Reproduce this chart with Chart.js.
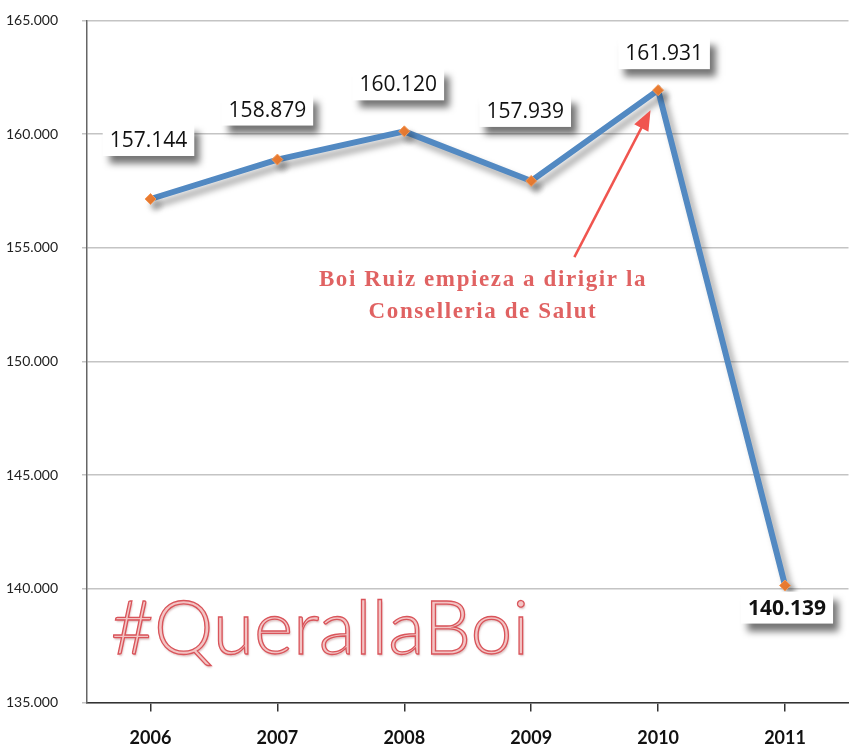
<!DOCTYPE html>
<html>
<head>
<meta charset="utf-8">
<script src="https://cdn.jsdelivr.net/npm/chart.js@4.4.0/dist/chart.umd.min.js"></script>
<style>
  html, body { margin: 0; padding: 0; background: #fff; overflow: hidden; }
  #wrap { width: 855px; height: 747px; position: relative; }
</style>
</head>
<body>
<div id="wrap"><canvas id="chart"></canvas></div>
<script>
// Data
var years = ['2006', '2007', '2008', '2009', '2010', '2011'];
var values = [157144, 158879, 160120, 157939, 161931, 140139];
var valueLabels = ['157.144', '158.879', '160.120', '157.939', '161.931', '140.139'];
var yTicks = [135000, 140000, 145000, 150000, 155000, 160000, 165000];
var noteLines = ['Boi Ruiz empieza a dirigir la', 'Conselleria de Salut'];
var watermark = '#QuerallaBoi';

function fmt(v) {
    return String(v).replace(/\B(?=(\d{3})+(?!\d))/g, '.');
}

// label offsets (px) from the point, boxes drawn white with a soft shadow
var labelOffsets = [[-2, -59], [-10, -50], [-6, -47], [-6, -70], [6, -37], [2, 22]];

var shadowPlugin = {
    id: 'lineShadow',
    beforeDatasetDraw: function(chart) {
        var ctx = chart.ctx;
        ctx.save();
        ctx.shadowColor = 'rgba(0,0,0,0.35)';
        ctx.shadowBlur = 6;
        ctx.shadowOffsetX = 5;
        ctx.shadowOffsetY = 6;
    },
    afterDatasetDraw: function(chart) {
        chart.ctx.restore();
    }
};

var decorPlugin = {
    id: 'decor',
    beforeDatasetsDraw: function(chart) {
        var ctx = chart.ctx;
        var x = chart.scales.x, y = chart.scales.y;
        // watermark
        ctx.save();
        ctx.font = '300 75px Lato, "Open Sans", sans-serif';
        ctx.textBaseline = 'alphabetic';
        ctx.textAlign = 'left';
        var wx = x.getPixelForValue(0) - 40, wy = y.getPixelForValue(137130);
        ctx.shadowColor = 'rgba(120,0,0,0.25)';
        ctx.shadowBlur = 2;
        ctx.shadowOffsetX = 1;
        ctx.shadowOffsetY = 2;
        ctx.fillStyle = '#f3c4c4';
        ctx.fillText(watermark, wx, wy);
        ctx.shadowColor = 'transparent';
        ctx.strokeStyle = '#d9545a';
        ctx.lineWidth = 1.3;
        ctx.strokeText(watermark, wx, wy);
        ctx.restore();
    },
    afterDatasetsDraw: function(chart) {
        var ctx = chart.ctx;
        var x = chart.scales.x, y = chart.scales.y;
        var meta = chart.getDatasetMeta(0);

        // arrow
        var sx = x.getPixelForValue(3) + 0.34 * (x.getPixelForValue(4) - x.getPixelForValue(3));
        var sy = y.getPixelForValue(154590);
        var ex = x.getPixelForValue(3) + 0.94 * (x.getPixelForValue(4) - x.getPixelForValue(3));
        var ey = y.getPixelForValue(161050);
        var ang = Math.atan2(ey - sy, ex - sx);
        ctx.save();
        ctx.strokeStyle = '#f0554f';
        ctx.fillStyle = '#f0554f';
        ctx.lineWidth = 2.5;
        ctx.beginPath();
        ctx.moveTo(sx, sy);
        ctx.lineTo(ex - 14 * Math.cos(ang), ey - 14 * Math.sin(ang));
        ctx.stroke();
        ctx.beginPath();
        ctx.moveTo(ex, ey);
        ctx.lineTo(ex - 20 * Math.cos(ang) + 8 * Math.sin(ang), ey - 20 * Math.sin(ang) - 8 * Math.cos(ang));
        ctx.lineTo(ex - 20 * Math.cos(ang) - 8 * Math.sin(ang), ey - 20 * Math.sin(ang) + 8 * Math.cos(ang));
        ctx.closePath();
        ctx.fill();

        // note text
        ctx.font = 'bold 23px "Liberation Serif", "DejaVu Serif", serif';
        ctx.letterSpacing = '1.6px';
        ctx.fillStyle = '#e06262';
        ctx.textAlign = 'center';
        ctx.textBaseline = 'middle';
        var nx = x.getPixelForValue(2) + 0.62 * (x.getPixelForValue(3) - x.getPixelForValue(2));
        ctx.fillText(noteLines[0], nx, y.getPixelForValue(153580));
        ctx.fillText(noteLines[1], nx, y.getPixelForValue(152170));
        ctx.restore();

        // value label boxes
        ctx.save();
        ctx.textAlign = 'center';
        ctx.textBaseline = 'middle';
        meta.data.forEach(function(pt, i) {
            var cx = pt.x + labelOffsets[i][0];
            var cy = pt.y + labelOffsets[i][1];
            ctx.font = (i === 5 ? 'bold ' : '') + '21px "Open Sans", Lato, sans-serif';
            var w = ctx.measureText(valueLabels[i]).width + 14;
            var h = 32;
            ctx.save();
            ctx.shadowColor = 'rgba(0,0,0,0.55)';
            ctx.shadowBlur = 7;
            ctx.shadowOffsetX = 6;
            ctx.shadowOffsetY = 8;
            ctx.fillStyle = '#ffffff';
            ctx.fillRect(cx - w / 2, cy - h / 2, w, h);
            ctx.restore();
            ctx.fillStyle = '#111';
            ctx.fillText(valueLabels[i], cx, cy + 1);
        });
        ctx.restore();
    }
};

new Chart(document.getElementById('chart'), {
    type: 'line',
    data: {
        labels: years,
        datasets: [{
            data: values,
            borderColor: '#5289c2',
            borderWidth: 6,
            tension: 0,
            pointStyle: 'rectRot',
            pointRadius: 5.5,
            pointBackgroundColor: '#ea7c32',
            pointBorderColor: '#f39a5a',
            pointBorderWidth: 1,
            fill: false
        }]
    },
    options: {
        responsive: true,
        maintainAspectRatio: false,
        animation: false,
        events: [],
        layout: { padding: { top: 17, right: 0, left: 6, bottom: -18 } },
        plugins: {
            legend: { display: false },
            tooltip: { enabled: false }
        },
        scales: {
            x: {
                offset: true,
                grid: {
                    display: true,
                    drawOnChartArea: false,
                    drawTicks: true,
                    tickLength: 9,
                    color: '#333',
                    lineWidth: 1.5
                },
                border: { display: true, color: '#333', width: 1.5 },
                ticks: {
                    color: '#111',
                    padding: 16,
                    font: { family: 'Lato, "Open Sans", sans-serif', size: 18, weight: 'bold' }
                }
            },
            y: {
                min: 135000,
                max: 165000,
                afterBuildTicks: function(axis) {
                    axis.ticks = yTicks.map(function(v) { return { value: v }; });
                },
                grid: {
                    color: '#c4c4c4',
                    lineWidth: 1.5,
                    drawTicks: true,
                    tickLength: 5
                },
                border: { display: true, color: '#666', width: 1.5 },
                ticks: {
                    color: '#222',
                    crossAlign: 'far',
                    padding: 12,
                    font: { family: 'Lato, "Open Sans", sans-serif', size: 14 },
                    callback: function(v) { return fmt(v); }
                }
            }
        }
    },
    plugins: [shadowPlugin, decorPlugin]
});
</script>
</body>
</html>
